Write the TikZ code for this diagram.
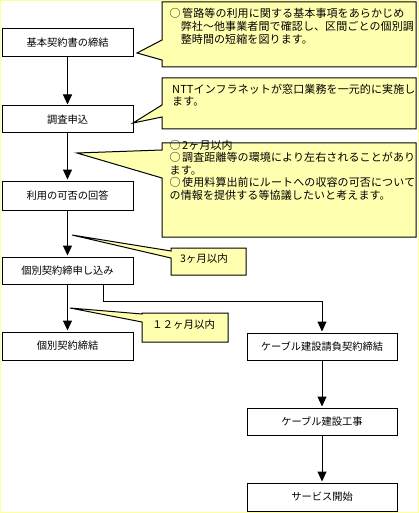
\documentclass[tikz,border=0pt]{standalone}
\usepackage{fontspec}
\setmainfont{Noto Sans CJK JP}
\newfontfamily\calloutfont{Noto Sans CJK JP}[LetterSpace=1.0]
\usetikzlibrary{arrows.meta}
\definecolor{callfill}{RGB}{255,255,176}
\definecolor{frameyellow}{RGB}{255,255,153}
\newcommand{\maru}{○\kern1.5pt}
\begin{document}
\begin{tikzpicture}[x=1pt,y=-1pt,
  boxnode/.style={draw, line width=1pt, minimum width=131pt, inner sep=0pt, font=\fontsize{10.25}{12}\selectfont},
  widebox/.style={boxnode, minimum width=150pt},
  arr/.style={line width=1pt, -{Triangle[width=9pt,length=10pt]}, shorten >=1pt},
  callout/.style={draw, line width=1pt, fill=callfill, line join=miter},
  ctext/.style={anchor=north west, inner sep=0pt, align=left},
  stext/.style={inner sep=0pt, font=\fontsize{10.5}{12}\selectfont}]
\useasboundingbox (0,0) rectangle (419,513);
\fill[white] (0,0) rectangle (419,513);
\draw[frameyellow, line width=1pt] (0.5,0.5) rectangle (418.5,512.5);

% callouts
\draw[callout] (162,2) -- (416,2) -- (416,67) -- (162,67) -- (162,60) -- (137,53) -- (162,40) -- cycle;
\draw[callout] (162,78) -- (416,78) -- (416,129) -- (162,129) -- (162,117) -- (133,123) -- (162,105) -- cycle;
\draw[callout] (162,143) -- (416,143) -- (416,237) -- (162,237) -- (162,178) -- (77,153) -- (162,150) -- cycle;
\draw[callout] (171,248) -- (246,248) -- (246,275) -- (171,275) -- (171,258) -- (72,235) -- (171,251) -- cycle;
\draw[callout] (142,313) -- (228,313) -- (228,342) -- (142,342) -- (142,322) -- (70,308) -- (142,314) -- cycle;

\node[ctext, font=\calloutfont\fontsize{11}{13}\selectfont] (t1) at (169.5,8.3)
  {\maru 管路等の利用に関する基本事項をあらかじめ\\　弊社～他事業者間で確認し、区間ごとの個別調\\　整時間の短縮を図ります。};
\node[ctext, font=\calloutfont\fontsize{11}{12}\selectfont] (t2) at (172,84.3)
  {NTTインフラネットが窓口業務を一元的に実施し\\ます。};
\node[ctext, font=\calloutfont\fontsize{11}{12.5}\selectfont] (t3) at (169.5,140)
  {\maru 2ヶ月以内\\\maru 調査距離等の環境により左右されることがあり\\ます。\\\maru 使用料算出前にルートへの収容の可否について\\の情報を提供する等協議したいと考えます。};
\node[stext] (t4) at (204,259) {3ヶ月以内};
\node[stext] (t5) at (183.5,325) {１２ヶ月以内};

% boxes
\node[boxnode, minimum height=28pt] (b1) at (67.5,43) {基本契約書の締結};
\node[boxnode, minimum height=27pt] (b2) at (67.5,119.5) {調査申込};
\node[boxnode, minimum height=29pt] (b3) at (67.5,195.5) {利用の可否の回答};
\node[boxnode, minimum height=27pt] (b4) at (67.5,270.5) {個別契約締申し込み};
\node[boxnode, minimum height=28pt] (b5) at (67.5,346) {個別契約締結};
\node[widebox, minimum height=27pt] (b6) at (322,346.5) {ケーブル建設請負契約締結};
\node[widebox, minimum height=27pt] (b7) at (322,421.5) {ケーブル建設工事};
\node[widebox, minimum height=28pt] (b8) at (322,497) {サービス開始};

% connectors
\draw[arr] (b1) -- (b2);
\draw[arr] (b2) -- (b3);
\draw[arr] (b3) -- (b4);
\draw[arr] (b4) -- (b5);
\draw[arr] ([xshift=35.5pt]b4.south) -- ++(0,17) -| (b6.north);
\draw[arr] (b6) -- (b7);
\draw[arr] (b7) -- (b8);
\end{tikzpicture}
\end{document}
